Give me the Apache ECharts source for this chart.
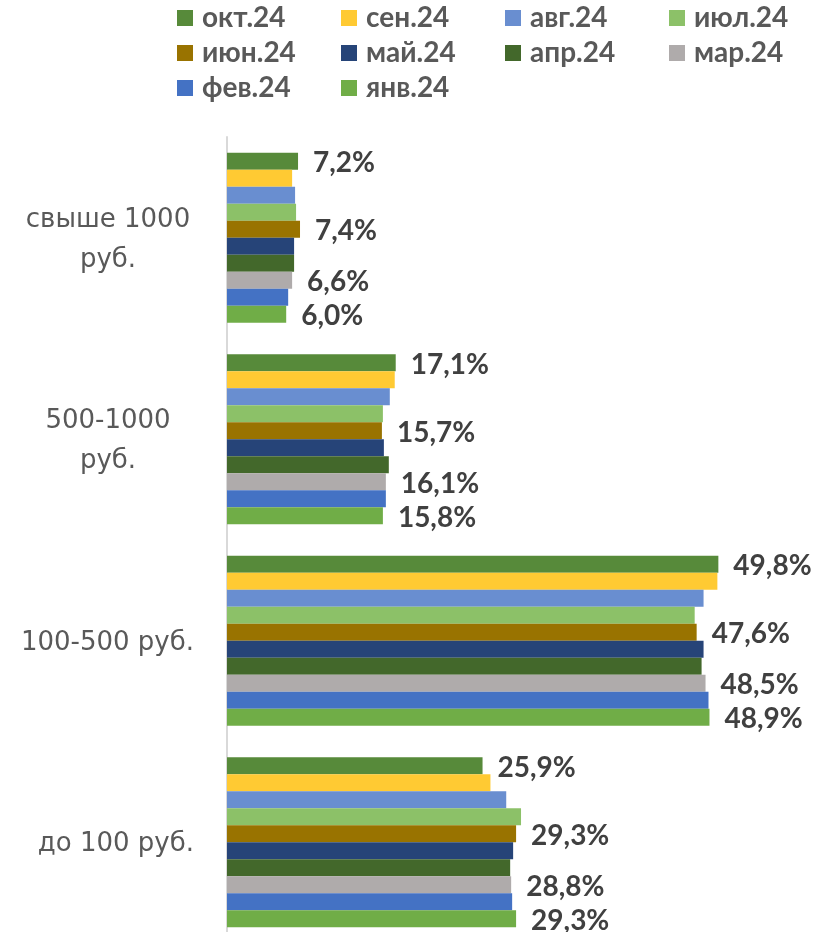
<!DOCTYPE html>
<html>
<head>
<meta charset="utf-8">
<script src="https://cdn.jsdelivr.net/npm/echarts@6/dist/echarts.min.js"></script>
<style>
  html, body { margin: 0; padding: 0; background: #fff; }
  #main { width: 818px; height: 932px; }
</style>
</head>
<body>
<div id="main"></div>
<script>
var categories = ['свыше 1000\nруб.', '500-1000\nруб.', '100-500 руб.', 'до 100 руб.'];
var months = ['окт.24', 'сен.24', 'авг.24', 'июл.24', 'июн.24', 'май.24', 'апр.24', 'мар.24', 'фев.24', 'янв.24'];
var colors = ['#578a3a', '#ffca33', '#698ed0', '#8cc168', '#997300', '#264478', '#43682b', '#afabab', '#4472c4', '#70ad47'];

// доли по ценовым группам, %
var okt = [7.2, 17.1, 49.8, 25.9];
var sen = [6.6, 17.0, 49.7, 26.7];
var avg = [6.9, 16.5, 48.3, 28.3];
var iul = [7.0, 15.8, 47.4, 29.8];
var iun = [7.4, 15.7, 47.6, 29.3];
var mai = [6.8, 15.9, 48.3, 29.0];
var apr = [6.8, 16.4, 48.1, 28.7];
var mar = [6.6, 16.1, 48.5, 28.8];
var fev = [6.2, 16.1, 48.8, 28.9];
var yan = [6.0, 15.8, 48.9, 29.3];
var values = [okt, sen, avg, iul, iun, mai, apr, mar, fev, yan];

// подписи только у этих месяцев
var labeled = ['окт.24', 'июн.24', 'мар.24', 'янв.24'];

var chart = echarts.init(document.getElementById('main'));

var series = months.map(function (m, i) {
    return {
        name: m,
        type: 'bar',
        data: values[i],
        barGap: '0%',
        barCategoryGap: '15.6%',
        itemStyle: { color: colors[i] },
        label: {
            show: labeled.indexOf(m) >= 0,
            position: 'right',
            distance: 15,
            offset: [0, 2],
            fontFamily: 'Lato',
            fontWeight: 'bold',
            fontSize: 28,
            color: '#404040',
            formatter: function (p) {
                return p.value.toFixed(1).replace('.', ',') + '%';
            }
        }
    };
});

var option = {
    animation: false,
    color: colors,
    legend: {
        data: months,
        left: 177,
        top: 4,
        padding: 0,
        width: 660,
        itemWidth: 16,
        itemHeight: 16,
        itemGap: 7,
        icon: 'rect',
        textStyle: {
            fontFamily: 'Lato',
            fontWeight: 'bold',
            fontSize: 28,
            color: '#595959',
            width: 132,
            lineHeight: 26,
            padding: [0, 0, 0, 4]
        }
    },
    grid: {
        left: 227,
        top: 137,
        width: 592,
        height: 806,
        outerBoundsMode: 'none',
        containLabel: false
    },
    xAxis: {
        type: 'value',
        min: 0,
        max: 60,
        show: false
    },
    yAxis: {
        type: 'category',
        data: categories,
        inverse: true,
        offset: 1,
        axisLine: { show: true, lineStyle: { color: '#d9d9d9', width: 2 } },
        axisTick: { show: false },
        axisLabel: {
            margin: 32,
            fontFamily: 'DejaVu Sans',
            fontSize: 26,
            color: '#595959',
            lineHeight: 40,
            padding: [4, 0, 0, 0],
            formatter: function (v) {
                if (v.indexOf('\n') < 0) return v;
                return v.split('\n').map(function (s) { return '{c|' + s + '}'; }).join('\n');
            },
            rich: {
                c: {
                    width: 172,
                    align: 'center',
                    fontFamily: 'DejaVu Sans',
                    fontSize: 26,
                    color: '#595959',
                    lineHeight: 40
                }
            }
        }
    },
    series: series
};

chart.setOption(option);
</script>
</body>
</html>
